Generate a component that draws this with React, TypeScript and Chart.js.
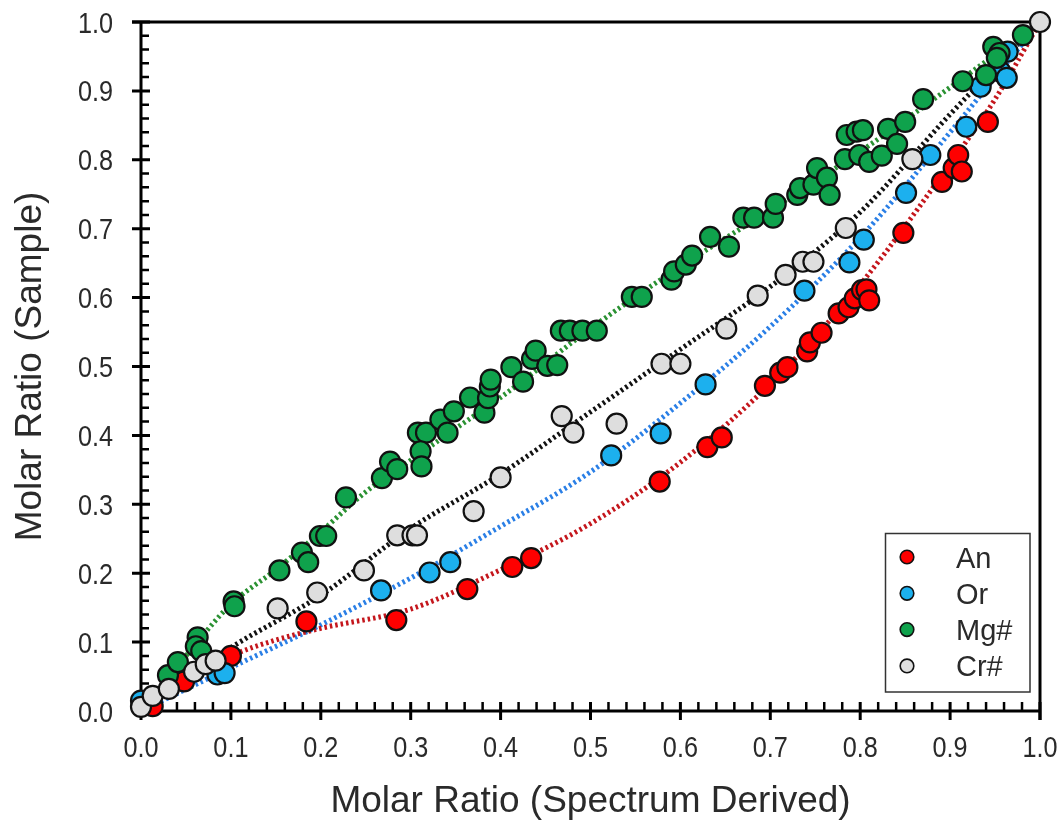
import React, { useEffect, useRef } from 'react';
import { Chart, registerables } from 'chart.js';
Chart.register(...registerables);

// ---- data ----
const anX = [0.013, 0.048, 0.1, 0.184, 0.284, 0.363, 0.413, 0.434, 0.577, 0.63, 0.646, 0.694, 0.711, 0.719, 0.741, 0.744, 0.757, 0.776, 0.787, 0.794, 0.802, 0.807, 0.81, 0.848, 0.891, 0.904, 0.909, 0.913, 0.942];
const anY = [0.007, 0.043, 0.08, 0.13, 0.132, 0.177, 0.209, 0.222, 0.333, 0.383, 0.397, 0.472, 0.491, 0.499, 0.522, 0.535, 0.549, 0.577, 0.586, 0.599, 0.611, 0.612, 0.596, 0.694, 0.768, 0.788, 0.807, 0.783, 0.855];

const orX = [0.0, 0.085, 0.093, 0.267, 0.321, 0.344, 0.523, 0.578, 0.628, 0.738, 0.788, 0.804, 0.851, 0.878, 0.918, 0.934, 0.956, 0.963, 0.964];
const orY = [0.015, 0.053, 0.055, 0.175, 0.201, 0.216, 0.371, 0.403, 0.474, 0.61, 0.651, 0.684, 0.752, 0.807, 0.848, 0.906, 0.928, 0.919, 0.957];

const mgX = [0.03, 0.041, 0.063, 0.061, 0.067, 0.103, 0.104, 0.154, 0.179, 0.186, 0.199, 0.206, 0.228, 0.268, 0.277, 0.285, 0.308, 0.317, 0.311, 0.312, 0.333, 0.341, 0.348, 0.366, 0.382, 0.386, 0.388, 0.389, 0.412, 0.425, 0.435, 0.439, 0.452, 0.463, 0.467, 0.477, 0.491, 0.507, 0.546, 0.557, 0.59, 0.593, 0.606, 0.613, 0.633, 0.654, 0.67, 0.682, 0.703, 0.706, 0.73, 0.733, 0.748, 0.752, 0.763, 0.766, 0.783, 0.785, 0.796, 0.803, 0.799, 0.81, 0.824, 0.831, 0.841, 0.85, 0.87, 0.914, 0.94, 0.948, 0.955, 0.952, 0.981];
const mgY = [0.052, 0.071, 0.107, 0.094, 0.087, 0.159, 0.152, 0.204, 0.23, 0.216, 0.254, 0.254, 0.31, 0.338, 0.362, 0.351, 0.404, 0.404, 0.377, 0.355, 0.423, 0.404, 0.435, 0.455, 0.433, 0.454, 0.471, 0.481, 0.499, 0.478, 0.511, 0.523, 0.501, 0.502, 0.552, 0.552, 0.552, 0.552, 0.601, 0.601, 0.626, 0.638, 0.648, 0.661, 0.688, 0.674, 0.716, 0.716, 0.716, 0.736, 0.749, 0.759, 0.764, 0.788, 0.774, 0.749, 0.801, 0.836, 0.841, 0.843, 0.807, 0.797, 0.806, 0.845, 0.823, 0.855, 0.888, 0.914, 0.923, 0.964, 0.955, 0.948, 0.981];

const crX = [0.0, 0.013, 0.031, 0.059, 0.072, 0.083, 0.152, 0.196, 0.248, 0.285, 0.302, 0.307, 0.37, 0.4, 0.468, 0.481, 0.529, 0.579, 0.6, 0.651, 0.686, 0.717, 0.736, 0.748, 0.784, 0.858, 1.0];
const crY = [0.006, 0.022, 0.032, 0.057, 0.068, 0.073, 0.149, 0.172, 0.204, 0.255, 0.255, 0.255, 0.29, 0.339, 0.428, 0.404, 0.417, 0.504, 0.504, 0.555, 0.603, 0.633, 0.652, 0.652, 0.701, 0.801, 1.0];

// trend curves
const anFitX = [0, 0.05, 0.1, 0.15, 0.2, 0.3, 0.4, 0.5, 0.6, 0.7, 0.8, 0.9, 0.95, 1.0];
const anFitY = [0, 0.045, 0.08, 0.103, 0.12, 0.148, 0.205, 0.272, 0.361, 0.475, 0.619, 0.794, 0.888, 1.0];
const orFitX = [0, 0.1, 0.2, 0.3, 0.4, 0.5, 0.6, 0.7, 0.8, 0.9, 1.0];
const orFitY = [0, 0.063, 0.125, 0.193, 0.268, 0.347, 0.447, 0.558, 0.687, 0.84, 1.0];
const mgFitX = [0, 0.05, 0.1, 0.15, 0.2, 0.25, 0.3, 0.35, 0.4, 0.5, 0.6, 0.7, 0.8, 0.9, 1.0];
const mgFitY = [0, 0.08, 0.155, 0.205, 0.26, 0.318, 0.364, 0.41, 0.455, 0.555, 0.645, 0.727, 0.812, 0.905, 1.0];
const crFitX = [0, 0.1, 0.2, 0.3, 0.4, 0.5, 0.6, 0.7, 0.8, 0.9, 1.0];
const crFitY = [0, 0.092, 0.168, 0.265, 0.344, 0.434, 0.525, 0.616, 0.724, 0.866, 1.0];

const seriesNames = ['An', 'Or', 'Mg#', 'Cr#'];
const pointColors = ['#fe0000', '#1cb0ee', '#0fa24c', '#dedede'];
const lineColors = ['#c4161c', '#2a7fe6', '#2a9132', '#111111'];

const tickValues = [0, 0.1, 0.2, 0.3, 0.4, 0.5, 0.6, 0.7, 0.8, 0.9, 1.0];
const tickLabels = ['0.0', '0.1', '0.2', '0.3', '0.4', '0.5', '0.6', '0.7', '0.8', '0.9', '1.0'];
const xTitle = 'Molar Ratio (Spectrum Derived)';
const yTitle = 'Molar Ratio (Sample)';

const zip = (xs: number[], ys: number[]) => xs.map((x, i) => ({ x, y: ys[i] }));

const TEXT = '#2a2a2a';

const axesPlugin = {
  id: 'customAxes',
  beforeDatasetsDraw(chart: any) {
    const ctx = chart.ctx;
    const { left, right, top, bottom } = chart.chartArea;
    const xs = chart.scales.x;
    const ys = chart.scales.y;
    ctx.save();
    ctx.strokeStyle = '#000';
    ctx.lineCap = 'butt';
    ctx.lineWidth = 3;
    ctx.beginPath();
    ctx.moveTo(left - 9, top);
    ctx.lineTo(right, top);
    ctx.lineTo(right, bottom + 9);
    ctx.stroke();
    ctx.beginPath();
    ctx.moveTo(left, top);
    ctx.lineTo(left, bottom);
    ctx.lineTo(right, bottom);
    ctx.stroke();
    for (let i = 0; i <= 50; i++) {
      const v = i / 50;
      const major = i % 5 === 0;
      const px = xs.getPixelForValue(v);
      const py = ys.getPixelForValue(v);
      ctx.lineWidth = major ? 3 : 2.5;
      ctx.beginPath();
      if (major) {
        ctx.moveTo(px, bottom - 9);
        ctx.lineTo(px, bottom + 9);
        ctx.moveTo(left - 9, py);
        ctx.lineTo(left + 9, py);
      } else {
        ctx.moveTo(px, bottom);
        ctx.lineTo(px, bottom - 9);
        ctx.moveTo(left, py);
        ctx.lineTo(left + 8, py);
      }
      ctx.stroke();
    }
    ctx.restore();
  },
  afterDraw(chart: any) {
    const ctx = chart.ctx;
    const { left, right, top, bottom } = chart.chartArea;
    const xs = chart.scales.x;
    const ys = chart.scales.y;
    ctx.save();
    ctx.fillStyle = TEXT;
    ctx.font = "29px 'Liberation Sans', Arial, sans-serif";
    tickValues.forEach((v, i) => {
      const px = xs.getPixelForValue(v);
      ctx.save();
      ctx.translate(px, bottom + 46);
      ctx.scale(0.87, 1);
      ctx.textAlign = 'center';
      ctx.textBaseline = 'alphabetic';
      ctx.fillText(tickLabels[i], 0, 0);
      ctx.restore();
    });
    tickValues.forEach((v, i) => {
      const py = ys.getPixelForValue(v);
      ctx.save();
      ctx.translate(left - 28, py + 10.5);
      ctx.scale(0.87, 1);
      ctx.textAlign = 'right';
      ctx.textBaseline = 'alphabetic';
      ctx.fillText(tickLabels[i], 0, 0);
      ctx.restore();
    });
    ctx.font = "37px 'Liberation Sans', Arial, sans-serif";
    ctx.textAlign = 'center';
    ctx.textBaseline = 'alphabetic';
    ctx.fillText(xTitle, (left + right) / 2, 812);
    ctx.save();
    ctx.translate(41, (top + bottom) / 2);
    ctx.rotate(-Math.PI / 2);
    ctx.fillText(yTitle, 0, 0);
    ctx.restore();
    const bx = 885.5, by = 533.5, bw = 144.5, bh = 158.5;
    ctx.lineWidth = 1.5;
    ctx.strokeStyle = '#333';
    ctx.strokeRect(bx, by, bw, bh);
    ctx.font = "29px 'Liberation Sans', Arial, sans-serif";
    ctx.textAlign = 'left';
    seriesNames.forEach((name, i) => {
      const cy = 557 + i * 36.3;
      ctx.beginPath();
      ctx.arc(907, cy, 6.8, 0, Math.PI * 2);
      ctx.fillStyle = pointColors[i];
      ctx.fill();
      ctx.lineWidth = 1.6;
      ctx.strokeStyle = '#111';
      ctx.stroke();
      ctx.fillStyle = TEXT;
      ctx.fillText(name, 956, cy + 10.5);
    });
    ctx.restore();
  },
};

export default function App() {
  const ref = useRef<HTMLCanvasElement | null>(null);
  useEffect(() => {
    document.body.style.margin = '0';
    const canvas = ref.current;
    if (!canvas) return;
    const pts = [zip(anX, anY), zip(orX, orY), zip(mgX, mgY), zip(crX, crY)];
    const fits = [zip(anFitX, anFitY), zip(orFitX, orFitY), zip(mgFitX, mgFitY), zip(crFitX, crFitY)];
    const datasets: any[] = [];
    fits.forEach((d, i) => {
      datasets.push({
        label: seriesNames[i] + ' fit',
        data: d,
        showLine: true,
        borderColor: lineColors[i],
        borderWidth: 5,
        borderDash: [2.5, 3],
        pointRadius: 0,
        cubicInterpolationMode: 'monotone',
        clip: false,
        order: 10 + i,
      });
    });
    pts.forEach((d, i) => {
      datasets.push({
        label: seriesNames[i],
        data: d,
        showLine: false,
        pointRadius: 10,
        pointBorderWidth: 2.2,
        pointBorderColor: '#111',
        pointBackgroundColor: pointColors[i],
        clip: false,
        order: 3 - i,
      });
    });
    const chart = new Chart(canvas, {
      type: 'scatter',
      data: { datasets },
      options: {
        responsive: false,
        animation: false,
        events: [],
        layout: { padding: { left: 141, right: 21, top: 22, bottom: 109 } },
        plugins: { legend: { display: false }, tooltip: { enabled: false }, title: { display: false } },
        scales: {
          x: { type: 'linear', min: 0, max: 1, display: false },
          y: { type: 'linear', min: 0, max: 1, display: false },
        },
      },
      plugins: [axesPlugin],
    });
    return () => chart.destroy();
  }, []);
  return (
    <div style={{ width: 1061, height: 820, background: '#fff' }}>
      <canvas ref={ref} width={1061} height={820} style={{ display: 'block' }} />
    </div>
  );
}
